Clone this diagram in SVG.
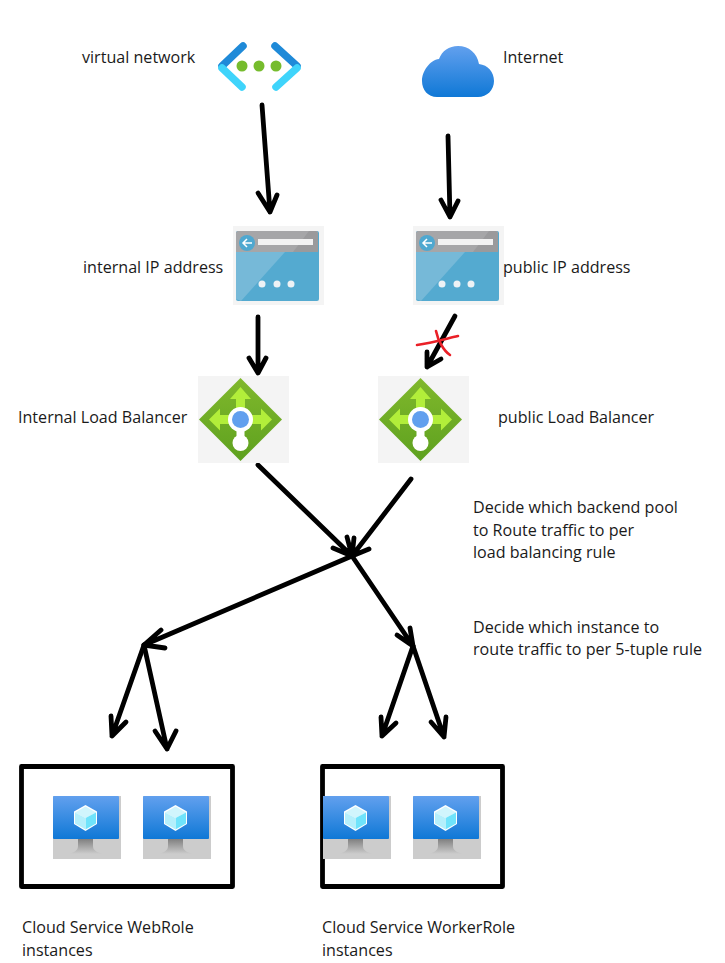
<svg xmlns="http://www.w3.org/2000/svg" width="725" height="963" viewBox="0 0 725 963">
<style>
text{font-family:"Open Sans","Noto Sans","Liberation Sans",sans-serif;font-size:16.1px;fill:#1a1a1a}
.c{fill:none;stroke:#000;stroke-width:4.8;stroke-linecap:round;stroke-linejoin:round}
.box{fill:none;stroke:#000;stroke-width:4.8;stroke-linejoin:round}
.v{fill:none;stroke-width:7.5;stroke-linecap:round}
</style>
<defs>
<linearGradient id="gb" x1="0" y1="0" x2="0" y2="1"><stop offset="0" stop-color="#62a0ee"/><stop offset="1" stop-color="#0f78d6"/></linearGradient>
<linearGradient id="gg" x1="0" y1="0" x2="0" y2="1"><stop offset="0" stop-color="#80b82c"/><stop offset="1" stop-color="#5ea11f"/></linearGradient>
<linearGradient id="gs" x1="0" y1="0" x2="0" y2="1"><stop offset="0" stop-color="#808080"/><stop offset="1" stop-color="#cccccc"/></linearGradient>
<symbol id="ip" width="91" height="79" viewBox="0 0 91 79" overflow="visible">
<rect width="91" height="79" fill="#f4f4f4"/>
<rect x="3" y="5" width="83" height="70" rx="2" fill="#54aad0"/>
<path d="M3 26V73L8 75L52 26Z" fill="#76b9d8"/>
<path d="M5 5H83a2 2 0 0 1 2 2V26H3V7a2 2 0 0 1 2-2Z" fill="#a6a6a8"/>
<path d="M85 7V26H60L76 5H83Z" fill="#9a9a9c"/>
<circle cx="14" cy="17" r="8" fill="#4fa8d0"/>
<path d="M19 17H10M14 13L10 17L14 21" fill="none" stroke="#fff" stroke-width="1.500"/>
<rect x="25" y="13" width="55" height="6" fill="#f2f2f2"/>
<circle cx="29" cy="58" r="3.500" fill="#eef2f5"/><circle cx="44" cy="58" r="3.500" fill="#eef2f5"/><circle cx="58" cy="58" r="3.500" fill="#eef2f5"/>
</symbol>
<symbol id="lb" width="91" height="87" viewBox="0 0 91 87" overflow="visible">
<rect width="91" height="87" fill="#f4f4f4"/>
<path d="M42.500 2L84 43.500L42.500 85L1 43.500Z" fill="url(#gg)"/>
<path d="M42.500 11L53 23H47V34H38V23H32ZM74 43.500L63 54.500V48H52V39H63V32.500ZM11 43.500L22 32.500V39H33V48H22V54.500Z" fill="#b2ee3a"/>
<circle cx="42.500" cy="43.500" r="12.500" fill="#fff"/>
<rect x="38.500" y="50" width="8" height="14" fill="#fff"/>
<circle cx="42.500" cy="67" r="8" fill="#fff"/>
<circle cx="42.500" cy="43.500" r="8.500" fill="#62a0ee"/>
</symbol>
<symbol id="vm" width="68" height="63" viewBox="0 0 68 63" overflow="visible">
<rect width="68" height="63" fill="#cccccc"/>
<rect width="66" height="43" rx="1" fill="url(#gb)"/>
<path d="M25 43H40V50C40 54 43 56 50 58H16C22 56 25 54 25 50Z" fill="url(#gs)"/>
<path d="M32.500 9L44 15.500V28L32.500 35L21 28V15.500Z" fill="#fff"/>
<path d="M32.500 10.500L43 16.500L32.500 22L22 16.500Z" fill="#d0f5fd"/>
<path d="M32.500 22L43 16.500V27.500L32.500 33.500Z" fill="#6fe3fb"/>
<path d="M32.500 22V33.500L22 27.500V16.500Z" fill="#b4effc"/>
</symbol>
</defs>

<g id="connectors">
<path class="c" d="M262 105L270 212M258 193L270 212L277 195"/>
<path class="c" d="M448 136L450 217M441 200L450 217L458 201"/>
<path class="c" d="M258 317V373M249 358L258 373L266 358"/>
<path class="c" d="M455 316L427 367M427 352L427 367L441 359"/>
<path class="c" d="M258 465L352 556M333 548L352 556L347 537"/>
<path class="c" d="M411 479L352 556M354 538L352 556L369 549"/>
<path class="c" d="M352 556L144 645M161 630L144 645L165 648"/>
<path class="c" d="M352 556L413 646M410 628L413 646L397 635"/>
<path class="c" d="M144 645L112 736M111 716L112 736L126 722"/>
<path class="c" d="M144 645L167 749M155 731L167 749L176 731"/>
<path class="c" d="M413 646L382 736M381 717L382 736L396 723"/>
<path class="c" d="M413 646L444 737M431 722L444 737L446 717"/>
<path d="M417 345C432 343 445 339 458 336M436 331C438 341 444 351 450 355" fill="none" stroke="#ea2027" stroke-width="2.600" stroke-linecap="round"/>
</g>

<g id="vnet">
<path class="v" stroke="#1f8ad8" d="M243 46L222 66"/>
<path class="v" stroke="#3fd4fb" d="M222 68L242 87"/>
<path class="v" stroke="#1f8ad8" d="M275 46L297 66"/>
<path class="v" stroke="#3fd4fb" d="M297 68L276 87"/>
<circle cx="242" cy="66" r="5.500" fill="#76bc2d"/><circle cx="259" cy="66" r="5.500" fill="#76bc2d"/><circle cx="276" cy="66" r="5.500" fill="#76bc2d"/>
<text x="82" y="63">virtual network</text>
</g>
<g id="internet">
<path d="M437 97C428 97 422 90 422 81C422 71 430 60 439 59C442 51 449 46 458 46C469 46 477 53 479 64C488 65 494 72 494 81C494 90 487 97 478 97Z" fill="url(#gb)"/>
<text x="503" y="63">Internet</text>
</g>
<g id="internal-ip"><use href="#ip" x="233" y="226"/><text x="83" y="273">internal IP address</text></g>
<g id="public-ip"><use href="#ip" x="413" y="226"/><text x="503" y="273">public IP address</text></g>
<g id="internal-lb"><use href="#lb" x="198" y="376"/><text x="18" y="423">Internal Load Balancer</text></g>
<g id="public-lb"><use href="#lb" x="378" y="376"/><text x="498" y="423">public Load Balancer</text></g>
<g id="note-pool">
<text x="473" y="513">Decide which backend pool</text>
<text x="473" y="536">to Route traffic to per</text>
<text x="473" y="558">load balancing rule</text>
</g>
<g id="note-instance">
<text x="473" y="633">Decide which instance to</text>
<text x="473" y="655">route traffic to per 5-tuple rule</text>
</g>
<g id="webrole">
<rect class="box" x="21.500" y="766.500" width="211" height="120"/>
<use href="#vm" x="53" y="796"/><use href="#vm" x="143" y="796"/>
<text x="22" y="933">Cloud Service WebRole</text>
<text x="22" y="956">instances</text>
</g>
<g id="workerrole">
<rect class="box" x="322.500" y="766.500" width="180" height="120"/>
<use href="#vm" x="323" y="796"/><use href="#vm" x="413" y="796"/>
<text x="322" y="933">Cloud Service WorkerRole</text>
<text x="322" y="956">instances</text>
</g>
</svg>
